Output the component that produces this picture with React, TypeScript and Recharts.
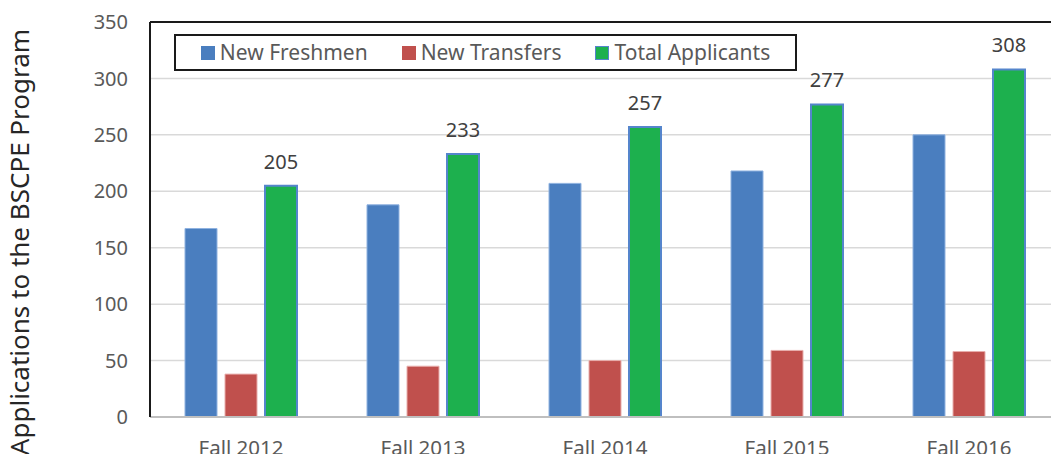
import React from 'react';
import { BarChart, Bar, XAxis, YAxis, CartesianGrid, Legend, LabelList, ReferenceLine } from 'recharts';

const categories = ['Fall 2012', 'Fall 2013', 'Fall 2014', 'Fall 2015', 'Fall 2016'];
const newFreshmen = [167, 188, 207, 218, 250];
const newTransfers = [38, 45, 50, 59, 58];
const totalApplicants = [205, 233, 257, 277, 308];
const yTicks = [0, 50, 100, 150, 200, 250, 300, 350];

const seriesInfo = [
  { key: 'nf', name: 'New Freshmen', color: '#4a7ebf', stroke: '#8fb2e0' },
  { key: 'nt', name: 'New Transfers', color: '#c0504d', stroke: '#e8aeac' },
  { key: 'ta', name: 'Total Applicants', color: '#1db04e', stroke: '#5585cc' },
];

const data = categories.map((c, i) => ({
  name: c,
  nf: newFreshmen[i],
  nt: newTransfers[i],
  ta: totalApplicants[i],
}));

const FONT = '"Noto Sans", "Open Sans", sans-serif';

const renderLegend = () => (
  <div
    style={{
      boxSizing: 'border-box',
      width: '100%',
      height: '100%',
      border: '2px solid #1a1a1a',
      background: '#fff',
      display: 'flex',
      alignItems: 'center',
      justifyContent: 'center',
      gap: 34,
      fontFamily: FONT,
      fontSize: 21,
      color: '#595959',
    }}
  >
    {seriesInfo.map((s) => (
      <div key={s.key} style={{ display: 'flex', alignItems: 'center' }}>
        <span
          style={{
            display: 'inline-block',
            width: 14,
            height: 14,
            background: s.color,
            boxSizing: 'border-box',
            border: s.key === 'ta' ? '1.5px solid #5585cc' : 'none',
            marginRight: 5,
          }}
        />
        <span style={{ lineHeight: 1 }}>{s.name}</span>
      </div>
    ))}
  </div>
);

const YLabel = () => (
  <text
    x={29}
    y={242}
    transform="rotate(-90, 29, 242)"
    textAnchor="middle"
    fontFamily={FONT}
    fontSize={26}
    fill="#262626"
  >
    Applications to the BSCPE Program
  </text>
);

export default function App() {
  return (
    <div
      style={{
        position: 'fixed',
        left: 0,
        top: 0,
        width: 1051,
        height: 454,
        overflow: 'hidden',
        background: '#fff',
      }}
    >
      <BarChart
        width={1070}
        height={454}
        data={data}
        margin={{ top: 22, right: 10, bottom: 0, left: 0 }}
        barSize={32}
        barGap={8}
        style={{ fontFamily: FONT }}
      >
        <CartesianGrid vertical={false} stroke="#d9d9d9" strokeWidth={1.5} />
        <XAxis
          dataKey="name"
          height={37}
          tickLine={false}
          axisLine={{ stroke: '#bfbfbf', strokeWidth: 2 }}
          tick={{ fill: '#595959', fontSize: 20.5, fontFamily: FONT }}
          tickSize={6}
          tickMargin={17}
          interval={0}
        />
        <YAxis
          width={150}
          domain={[0, 350]}
          ticks={yTicks}
          interval={0}
          tickLine={false}
          axisLine={{ stroke: '#1a1a1a', strokeWidth: 2 }}
          tick={{ fill: '#595959', fontSize: 20, fontFamily: FONT }}
          tickSize={6}
          tickMargin={16}
          label={<YLabel />}
        />
        <ReferenceLine y={350} stroke="#1a1a1a" strokeWidth={2} />
        <Legend
          layout="horizontal"
          verticalAlign="middle"
          align="center"
          content={renderLegend}
          wrapperStyle={{ position: 'absolute', left: 174, top: 34, width: 623, height: 37 }}
        />
        {seriesInfo.map((s) => (
          <Bar
            key={s.key}
            dataKey={s.key}
            name={s.name}
            fill={s.color}
            stroke={s.stroke}
            strokeWidth={s.key === 'ta' ? 2 : 1}
            isAnimationActive={false}
          >
            {s.key === 'ta' ? (
              <LabelList
                dataKey="ta"
                position="top"
                offset={17}
                fill="#404040"
                fontSize={20}
                fontFamily={FONT}
              />
            ) : null}
          </Bar>
        ))}
      </BarChart>
    </div>
  );
}
